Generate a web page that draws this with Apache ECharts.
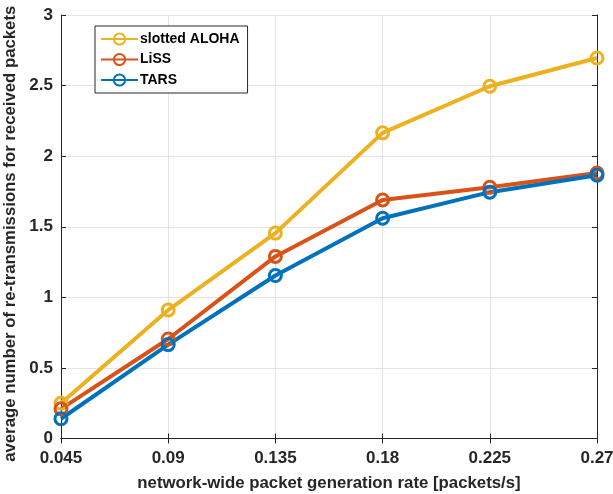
<!DOCTYPE html>
<html><head><meta charset="utf-8">
<script src="https://cdn.jsdelivr.net/npm/echarts@6/dist/echarts.min.js"></script>
<style>html,body{margin:0;padding:0;background:#fff}#c{width:613px;height:494px}</style>
</head><body><div id="c"></div>
<script>
const categories = ['0.045','0.09','0.135','0.18','0.225','0.27'];
const alohaValues = [0.25, 0.91, 1.455, 2.165, 2.495, 2.695];
const lissValues = [0.21, 0.705, 1.29, 1.69, 1.78, 1.88];
const tarsValues = [0.14, 0.665, 1.155, 1.56, 1.745, 1.865];
const yTicks = [0, 0.5, 1, 1.5, 2, 2.5, 3];
const seriesNames = ['slotted ALOHA', 'LiSS', 'TARS'];
const colors = ['#EDB120', '#D95319', '#0072BD'];
const FONT = 'Liberation Sans, Arial, sans-serif';
const TXT = '#262626';

function mk(name, data, color){
  return {
    name, type:'line', data, symbol:'circle', symbolSize:12, showSymbol:true,
    lineStyle:{color, width:4},
    itemStyle:{color:'rgba(255,255,255,0)', borderColor:color, borderWidth:3},
    emphasis:{disabled:true}, animation:false
  };
}
const chart = echarts.init(document.getElementById('c'), null, {renderer:'canvas'});
const axisLine = {show:true, lineStyle:{color:TXT, width:1}};
chart.setOption({
  backgroundColor:'#fff',
  animation:false,
  grid:{left:61, right:16, top:15, bottom:55.5, containLabel:false, outerBoundsMode:'none'},
  legend:{
    left:95, top:26, orient:'vertical', width:150,
    padding:[6,8,6,5], itemGap:6.5, itemWidth:37, itemHeight:14,
    backgroundColor:'#fff', borderColor:TXT, borderWidth:1, borderRadius:0,
    textStyle:{fontFamily:FONT, fontWeight:'bold', fontSize:14, color:'#000', padding:[0,0,0,-3]},
    data: seriesNames
  },
  xAxis:[{
    type:'category', data:categories, boundaryGap:false,
    name:'network-wide packet generation rate [packets/s]', nameLocation:'middle', nameGap:36,
    nameTextStyle:{fontFamily:FONT, fontWeight:'bold', fontSize:16.8, color:TXT},
    axisLine, axisTick:{show:true, inside:true, length:5, alignWithLabel:true, lineStyle:{color:TXT}},
    axisLabel:{fontFamily:FONT, fontWeight:'bold', fontSize:17, color:TXT, margin:11.5, interval:0},
    splitLine:{show:true, lineStyle:{color:'#e3e3e3', width:1}}
  },{
    type:'category', data:categories, boundaryGap:false, position:'top',
    axisLine, axisTick:{show:true, inside:true, length:5, alignWithLabel:true, lineStyle:{color:TXT}},
    axisLabel:{show:false}, splitLine:{show:false}
  }],
  yAxis:[{
    type:'value', min:0, max:3, interval:0.5,
    name:'average number of re-transmissions for received packets', nameLocation:'middle', nameGap:33,
    nameTextStyle:{fontFamily:FONT, fontWeight:'bold', fontSize:16.75, color:TXT, padding:[0,14,0,0]},
    axisLine, axisTick:{show:true, inside:true, length:5, lineStyle:{color:TXT}},
    axisLabel:{fontFamily:FONT, fontWeight:'bold', fontSize:17, color:TXT, margin:8,
      formatter: v => String(yTicks.find(t => Math.abs(t - v) < 1e-9) ?? v)},
    splitLine:{show:true, lineStyle:{color:'#e3e3e3', width:1}}
  },{
    type:'value', min:0, max:3, interval:0.5, position:'right',
    axisLine, axisTick:{show:true, inside:true, length:5, lineStyle:{color:TXT}},
    axisLabel:{show:false}, splitLine:{show:false}
  }],
  series:[
    mk(seriesNames[0], alohaValues, colors[0]),
    mk(seriesNames[1], lissValues, colors[1]),
    mk(seriesNames[2], tarsValues, colors[2])
  ]
});
</script></body></html>
